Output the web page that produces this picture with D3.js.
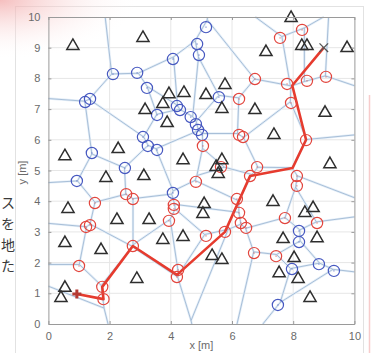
<!DOCTYPE html>
<html>
<head>
<meta charset="utf-8">
<script src="https://cdn.jsdelivr.net/npm/d3@7"></script>
<style>
  html, body { margin: 0; padding: 0; background: #fff; }
  svg { display: block; }
</style>
</head>
<body>
<div class="chart"></div>
<script>
// obstacles (triangles), voronoi nodes and the planned route, in metres
const obstacles = [
  [0.80, 9.09], [3.09, 9.35], [3.16, 7.00], [0.54, 5.50], [2.28, 5.73],
  [3.94, 7.52], [4.43, 7.56], [3.74, 7.20], [3.88, 6.58], [5.15, 7.49],
  [5.77, 7.82], [5.67, 7.04], [4.40, 5.37], [5.67, 5.37], [5.48, 5.15],
  [5.55, 4.92], [7.93, 10.0], [7.11, 8.89], [8.28, 9.09], [8.45, 9.09],
  [9.76, 9.02], [6.75, 7.00], [9.04, 6.91], [7.37, 6.19], [9.20, 5.24],
  [1.88, 4.79], [3.12, 4.85], [0.64, 3.78], [2.24, 3.42], [3.29, 3.42],
  [0.54, 2.67], [1.72, 2.44], [3.74, 2.77], [4.40, 2.87], [2.89, 1.50],
  [0.54, 1.21], [0.41, 0.88], [5.09, 3.94], [5.05, 3.62], [7.34, 4.01],
  [8.38, 3.65], [8.65, 3.81], [7.67, 2.80], [8.78, 2.83], [5.35, 2.25],
  [5.67, 2.12], [8.03, 2.18], [7.54, 1.69], [8.16, 1.50], [8.55, 0.88]
];

const blueNodes = [
  [2.11, 8.14], [2.90, 8.18], [1.20, 7.23], [1.36, 7.33], [3.22, 7.69],
  [4.07, 8.63], [4.20, 7.10], [4.30, 6.97], [3.55, 6.81], [4.65, 6.74],
  [3.09, 6.09], [3.25, 5.80], [3.55, 5.67], [1.42, 5.57], [2.50, 5.08],
  [0.93, 4.66], [5.15, 9.67], [4.86, 9.12], [4.92, 8.76], [5.57, 7.39],
  [4.82, 6.51], [4.89, 6.32], [5.02, 6.16], [4.07, 4.27], [8.19, 3.03],
  [8.19, 2.67], [8.84, 1.95], [9.33, 1.73], [7.96, 1.79], [7.50, 0.62]
];

const redNodes = [
  [7.57, 9.32], [8.29, 9.58], [6.75, 7.98], [7.80, 7.82], [8.45, 7.92],
  [9.07, 8.05], [7.93, 7.20], [6.23, 7.33], [6.23, 6.16], [6.36, 6.09],
  [5.05, 5.80], [8.42, 5.99], [6.82, 5.11], [6.59, 4.82], [8.12, 4.82],
  [8.12, 4.50], [5.64, 5.11], [4.82, 4.63], [2.54, 4.23], [2.76, 4.07],
  [1.52, 3.94], [4.10, 3.88], [4.10, 3.75], [3.94, 3.36], [1.23, 3.16],
  [1.36, 3.22], [2.76, 2.54], [1.00, 1.89], [1.76, 1.21], [1.80, 0.81],
  [4.24, 1.76], [4.20, 1.53], [6.23, 3.62], [7.73, 3.45], [8.78, 3.29],
  [6.29, 3.29], [6.46, 3.13], [5.77, 3.00], [5.15, 2.87], [6.72, 2.31],
  [7.44, 2.21], [6.16, 4.07]
];

const route = [
  [0.93, 0.98], [1.80, 0.81], [1.76, 1.21], [2.76, 2.54], [4.20, 1.60],
  [5.77, 3.00], [6.59, 4.82], [7.98, 5.08], [8.42, 6.00], [7.97, 7.77],
  [9.00, 9.00]
];

const xTicks = [0, 2, 4, 6, 8, 10];
const yTicks = [0, 1, 2, 3, 4, 5, 6, 7, 8, 9, 10];
const sideText = ['ス', 'を', '地', 'た'];

const width = 377;
const height = 353;

const svg = d3.select('.chart')
  .append('svg')
  .attr('width', width)
  .attr('height', height);

const defs = svg.append('defs');
const glow = defs.append('radialGradient')
  .attr('id', 'pink')
  .attr('cx', 0).attr('cy', 0).attr('r', 1)
  .attr('gradientUnits', 'objectBoundingBox');
glow.append('stop').attr('offset', '0%').attr('stop-color', '#f2a8a8').attr('stop-opacity', 0.75);
glow.append('stop').attr('offset', '100%').attr('stop-color', '#ffffff').attr('stop-opacity', 0);

// page background bits around the figure
svg.append('rect').attr('width', width).attr('height', height).attr('fill', '#fff');
svg.append('rect')
  .attr('x', 15.5).attr('y', 6.5)
  .attr('width', 348).attr('height', 350)
  .attr('fill', '#fff')
  .attr('stroke', '#e2e2e2');
svg.append('rect')
  .attr('width', 140).attr('height', 60)
  .attr('fill', 'url(#pink)');
svg.append('line')
  .attr('x1', 369.5).attr('x2', 369.5)
  .attr('y1', 95).attr('y2', height)
  .attr('stroke', '#f7cccc')
  .attr('stroke-width', 1.5);

svg.append('g')
  .selectAll('text')
  .data(sideText)
  .enter()
  .append('text')
  .attr('x', 15)
  .attr('y', (d, i) => 208 + i * 21)
  .attr('text-anchor', 'end')
  .style('font-family', '"Noto Sans CJK JP", sans-serif')
  .style('font-size', '14px')
  .style('fill', '#3a3a3a')
  .text(d => d);

const x = d3.scaleLinear().domain([0, 10]).range([48.4, 354.4]);
const y = d3.scaleLinear().domain([0, 10]).range([324, 17]);

const plot = svg.append('g');

// grid
plot.append('g')
  .selectAll('line')
  .data(xTicks.slice(1, -1))
  .enter().append('line')
  .attr('x1', d => x(d)).attr('x2', d => x(d))
  .attr('y1', y(0)).attr('y2', y(10))
  .attr('stroke', '#e6e6e6');

plot.append('g')
  .selectAll('line')
  .data(yTicks.slice(1, -1))
  .enter().append('line')
  .attr('x1', x(0)).attr('x2', x(10))
  .attr('y1', d => y(d)).attr('y2', d => y(d))
  .attr('stroke', '#e6e6e6');

// voronoi roads between obstacles
const delaunay = d3.Delaunay.from(obstacles, d => x(d[0]), d => y(d[1]));
const voronoi = delaunay.voronoi([x(0), y(10), x(10), y(0)]);
const roads = voronoi.render();

plot.append('path')
  .attr('d', roads)
  .attr('fill', 'none')
  .attr('stroke', '#e4eef8')
  .attr('stroke-width', 2.4);

plot.append('path')
  .attr('d', roads)
  .attr('fill', 'none')
  .attr('stroke', '#98b2cf')
  .attr('stroke-width', 0.8);

// route
const line = d3.line()
  .x(d => x(d[0]))
  .y(d => y(d[1]));

plot.append('path')
  .datum(route)
  .attr('d', line)
  .attr('fill', 'none')
  .attr('stroke', '#e63b2e')
  .attr('stroke-width', 2.6)
  .attr('stroke-linejoin', 'round');

// nodes
function drawNodes(data, color) {
  const g = plot.append('g');
  g.selectAll('circle')
    .data(data)
    .enter().append('circle')
    .attr('cx', d => x(d[0]))
    .attr('cy', d => y(d[1]))
    .attr('r', 5.6)
    .attr('fill', 'none')
    .attr('stroke', color)
    .attr('stroke-width', 1.2);
  g.selectAll('rect')
    .data(data)
    .enter().append('rect')
    .attr('x', d => x(d[0]) - 0.7)
    .attr('y', d => y(d[1]) - 0.7)
    .attr('width', 1.4)
    .attr('height', 1.4)
    .attr('fill', color)
    .attr('opacity', 0.5);
}
drawNodes(blueNodes, '#4658c0');
drawNodes(redNodes, '#e2453d');

// obstacles
plot.append('g')
  .selectAll('path')
  .data(obstacles)
  .enter().append('path')
  .attr('d', d3.symbol(d3.symbolTriangle, 64))
  .attr('transform', d => `translate(${x(d[0])},${y(d[1]) + 1})`)
  .attr('fill', 'none')
  .attr('stroke', '#2e2e2e')
  .attr('stroke-width', 1.5);

// start and goal markers
const start = route[0];
const goal = route[route.length - 1];
plot.append('path')
  .attr('d', d3.symbol(d3.symbolCross, 45))
  .attr('transform', `translate(${x(start[0])},${y(start[1])})`)
  .attr('fill', '#b53a34');
plot.append('path')
  .attr('d', d3.symbol(d3.symbolX, 50))
  .attr('transform', `translate(${x(goal[0])},${y(goal[1])})`)
  .attr('fill', 'none')
  .attr('stroke', '#555')
  .attr('stroke-width', 1.3);

// axes box with inward ticks
const tickStyle = g => {
  g.select('.domain').attr('stroke', '#9a9a9a');
  g.selectAll('.tick line').attr('stroke', '#9a9a9a');
  g.selectAll('.tick text')
    .style('font-family', '"Liberation Sans", sans-serif')
    .style('font-size', '11px')
    .style('fill', '#6a6a6a');
};

svg.append('g')
  .attr('transform', `translate(0,${y(0)})`)
  .call(d3.axisBottom(x).tickValues(xTicks).tickSize(-3).tickPadding(8).tickSizeOuter(0))
  .call(tickStyle);
svg.append('g')
  .attr('transform', `translate(0,${y(10)})`)
  .call(d3.axisTop(x).tickValues(xTicks).tickSize(-3).tickFormat('').tickSizeOuter(0))
  .call(tickStyle);
svg.append('g')
  .attr('transform', `translate(${x(0)},0)`)
  .call(d3.axisLeft(y).tickValues(yTicks).tickSize(-3).tickPadding(8).tickSizeOuter(0))
  .call(tickStyle);
svg.append('g')
  .attr('transform', `translate(${x(10)},0)`)
  .call(d3.axisRight(y).tickValues(yTicks).tickSize(-3).tickFormat('').tickSizeOuter(0))
  .call(tickStyle);

svg.append('text')
  .attr('x', x(5))
  .attr('y', 349)
  .attr('text-anchor', 'middle')
  .style('font-family', '"Liberation Sans", sans-serif')
  .style('font-size', '11px')
  .style('fill', '#6a6a6a')
  .text('x [m]');

svg.append('text')
  .attr('transform', `translate(26,${y(5) + 2}) rotate(-90)`)
  .attr('text-anchor', 'middle')
  .style('font-family', '"Liberation Sans", sans-serif')
  .style('font-size', '11px')
  .style('fill', '#6a6a6a')
  .text('y [m]');
</script>
</body>
</html>
